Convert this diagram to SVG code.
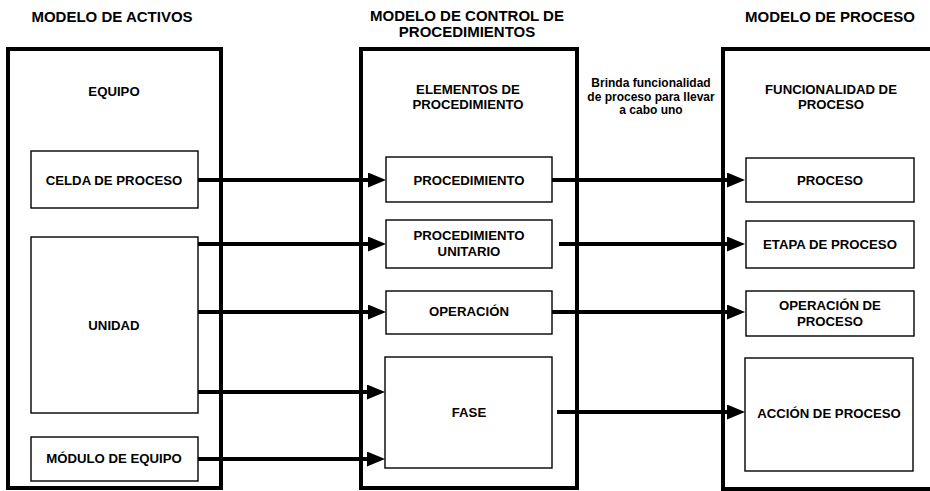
<svg xmlns="http://www.w3.org/2000/svg" width="930" height="491" viewBox="0 0 930 491">
<defs>
<style>
text{font-family:"Liberation Sans",Arial,sans-serif;font-weight:bold;fill:#000;text-anchor:middle}
.title{font-size:15px}
.lbl{font-size:13.2px}
.note{font-size:12px}
.outer{fill:none;stroke:#000;stroke-width:4}
.inner{fill:#fff;stroke:#000;stroke-width:1.4}
.conn{fill:none;stroke:#000;stroke-width:4}
</style>
<marker id="arr" markerUnits="userSpaceOnUse" markerWidth="20" markerHeight="16" refX="8" refY="7.5" orient="auto">
<path d="M0,0 L18,7.5 L0,15 Z" fill="#000"/>
</marker>
</defs>
<rect width="930" height="491" fill="#fff"/>

<g id="modelo-activos">
<text class="title" x="112" y="22">MODELO DE ACTIVOS</text>
<rect class="outer" x="8" y="49" width="213" height="439"/>
<text class="lbl" x="114" y="96">EQUIPO</text>
</g>
<g id="celda-proceso">
<rect class="inner" x="31" y="151" width="167" height="57"/>
<text class="lbl" x="114" y="185">CELDA DE PROCESO</text>
</g>
<g id="unidad">
<rect class="inner" x="31" y="237" width="167" height="176"/>
<text class="lbl" x="114" y="330">UNIDAD</text>
</g>
<g id="modulo-equipo">
<rect class="inner" x="31" y="437" width="167" height="44"/>
<text class="lbl" x="114" y="463">MÓDULO DE EQUIPO</text>
</g>

<g id="modelo-control">
<text class="title" x="467" y="21">MODELO DE CONTROL DE</text>
<text class="title" x="467" y="37">PROCEDIMIENTOS</text>
<rect class="outer" x="361" y="49" width="216" height="439"/>
<text class="lbl" x="468" y="94">ELEMENTOS DE</text>
<text class="lbl" x="468" y="108.5">PROCEDIMIENTO</text>
</g>
<g id="procedimiento">
<rect class="inner" x="386" y="157" width="166" height="45"/>
<text class="lbl" x="469" y="185">PROCEDIMIENTO</text>
</g>
<g id="procedimiento-unitario">
<rect class="inner" x="386" y="220" width="166" height="48"/>
<text class="lbl" x="469" y="240">PROCEDIMIENTO</text>
<text class="lbl" x="469" y="256">UNITARIO</text>
</g>
<g id="operacion">
<rect class="inner" x="386" y="291" width="166" height="43"/>
<text class="lbl" x="469" y="316">OPERACIÓN</text>
</g>
<g id="fase">
<rect class="inner" x="385" y="357" width="167" height="111"/>
<text class="lbl" x="469" y="417">FASE</text>
</g>

<g id="nota">
<text class="note" x="651" y="87">Brinda funcionalidad</text>
<text class="note" x="651" y="100.5">de proceso para llevar</text>
<text class="note" x="651" y="114">a cabo uno</text>
</g>

<g id="modelo-proceso">
<text class="title" x="830" y="22">MODELO DE PROCESO</text>
<rect class="outer" x="723" y="49" width="215" height="440"/>
<text class="lbl" x="831" y="94">FUNCIONALIDAD DE</text>
<text class="lbl" x="831" y="108.5">PROCESO</text>
</g>
<g id="proceso">
<rect class="inner" x="746" y="158" width="168" height="44"/>
<text class="lbl" x="830" y="185">PROCESO</text>
</g>
<g id="etapa-proceso">
<rect class="inner" x="746" y="221" width="168" height="47"/>
<text class="lbl" x="830" y="249">ETAPA DE PROCESO</text>
</g>
<g id="operacion-proceso">
<rect class="inner" x="746" y="291" width="168" height="45"/>
<text class="lbl" x="830" y="310">OPERACIÓN DE</text>
<text class="lbl" x="830" y="326">PROCESO</text>
</g>
<g id="accion-proceso">
<rect class="inner" x="745" y="358" width="168" height="113"/>
<text class="lbl" x="829" y="418">ACCIÓN DE PROCESO</text>
</g>

<g id="connectors">
<line class="conn" x1="198" y1="180" x2="376" y2="180" marker-end="url(#arr)"/>
<line class="conn" x1="198" y1="244" x2="376" y2="244" marker-end="url(#arr)"/>
<line class="conn" x1="198" y1="312" x2="376" y2="312" marker-end="url(#arr)"/>
<line class="conn" x1="198" y1="392" x2="375" y2="392" marker-end="url(#arr)"/>
<line class="conn" x1="198" y1="459" x2="375" y2="459" marker-end="url(#arr)"/>
<line class="conn" x1="552" y1="180" x2="735" y2="180" marker-end="url(#arr)"/>
<line class="conn" x1="559" y1="244" x2="735" y2="244" marker-end="url(#arr)"/>
<line class="conn" x1="552" y1="312" x2="735" y2="312" marker-end="url(#arr)"/>
<line class="conn" x1="557" y1="412" x2="735" y2="412" marker-end="url(#arr)"/>
</g>
</svg>
